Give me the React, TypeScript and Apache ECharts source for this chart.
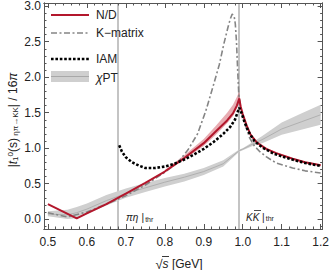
import React, { useEffect, useRef } from "react";
import * as echarts from "echarts";

// ---- data ----
const ND_X = [0.5, 0.574, 0.6, 0.65, 0.7, 0.75, 0.8, 0.85, 0.9, 0.93, 0.96, 0.975, 0.985, 0.991, 0.995, 1.0, 1.01, 1.02, 1.036, 1.06, 1.086, 1.128, 1.16, 1.2];
const ND_Y = [0.21, 0.01, 0.08, 0.21, 0.36, 0.51, 0.67, 0.86, 1.07, 1.23, 1.39, 1.49, 1.6, 1.7, 1.58, 1.48, 1.32, 1.19, 1.08, 0.99, 0.93, 0.85, 0.8, 0.76];

const NDB_X = [0.8, 0.85, 0.9, 0.93, 0.96, 0.975, 0.985, 0.991, 0.995, 1.0, 1.01, 1.02, 1.036, 1.06, 1.086, 1.128, 1.16, 1.2];
const NDB_LO = [0.66, 0.84, 1.03, 1.18, 1.35, 1.45, 1.56, 1.65, 1.55, 1.46, 1.31, 1.18, 1.07, 0.98, 0.92, 0.84, 0.79, 0.75];
const NDB_HI = [0.69, 0.9, 1.13, 1.31, 1.5, 1.61, 1.72, 1.8, 1.62, 1.5, 1.34, 1.21, 1.1, 1.01, 0.94, 0.86, 0.81, 0.77];

const KM_X = [0.5, 0.55, 0.6, 0.65, 0.7, 0.75, 0.8, 0.834, 0.86, 0.884, 0.905, 0.926, 0.94, 0.952, 0.962, 0.968, 0.973, 0.978, 0.981, 0.984, 0.987, 0.99, 0.995, 1.0, 1.01, 1.018, 1.03, 1.044, 1.06, 1.086, 1.128, 1.16, 1.2];
const KM_Y = [0.09, 0.03, 0.1, 0.21, 0.33, 0.48, 0.66, 0.8, 0.98, 1.2, 1.52, 1.91, 2.18, 2.48, 2.7, 2.82, 2.89, 2.86, 2.75, 2.5, 2.1, 1.75, 1.56, 1.45, 1.27, 1.14, 1.03, 0.95, 0.88, 0.79, 0.72, 0.68, 0.65];

const IAM_X = [0.683, 0.69, 0.7, 0.716, 0.735, 0.75, 0.775, 0.8, 0.825, 0.85, 0.875, 0.9, 0.926, 0.95, 0.968, 0.98, 0.991, 0.998, 1.005, 1.015, 1.03, 1.05, 1.08, 1.12, 1.16, 1.2];
const IAM_Y = [1.04, 0.95, 0.87, 0.8, 0.75, 0.72, 0.72, 0.74, 0.78, 0.84, 0.91, 0.99, 1.09, 1.2, 1.3, 1.4, 1.57, 1.48, 1.36, 1.23, 1.1, 1.01, 0.92, 0.85, 0.79, 0.75];

const CHI_X = [0.5, 0.55, 0.574, 0.6, 0.65, 0.7, 0.75, 0.8, 0.85, 0.9, 0.95, 0.991, 1.0, 1.03, 1.05, 1.1, 1.15, 1.2];
const CHI_LO = [0.04, 0.0, 0.01, 0.07, 0.19, 0.3, 0.38, 0.46, 0.53, 0.62, 0.74, 0.95, 0.97, 1.04, 1.07, 1.19, 1.26, 1.33];
const CHI_HI = [0.11, 0.13, 0.17, 0.22, 0.34, 0.43, 0.51, 0.58, 0.64, 0.72, 0.83, 0.98, 1.0, 1.1, 1.17, 1.36, 1.49, 1.61];
const CHI_MID = [0.07, 0.06, 0.09, 0.14, 0.26, 0.36, 0.44, 0.52, 0.59, 0.67, 0.78, 0.965, 0.985, 1.07, 1.12, 1.27, 1.37, 1.47];

const THRESHOLDS = [0.683, 0.991];

const X_MAJOR = [0.5, 0.6, 0.7, 0.8, 0.9, 1.0, 1.1, 1.2];
const Y_MAJOR = [0, 0.5, 1.0, 1.5, 2.0, 2.5, 3.0];
const X_MINOR: number[] = [];
for (let i = 25; i <= 60; i++) X_MINOR.push(+(i * 0.02).toFixed(2));
const Y_MINOR: number[] = [];
for (let i = -1; i <= 30; i++) Y_MINOR.push(+(i * 0.1).toFixed(1));

const X_MIN = 0.49;
const X_MAX = 1.205;
const Y_MIN = -0.14;
const Y_MAX = 3.046;

const FONT = "Liberation Sans, Arial, sans-serif";
const FRAME = "#555";
const RED = "#b3172c";

const zip = (xs: number[], ys: number[]) => xs.map((x, i) => [x, ys[i]]);

function bandSeries(xs: number[], lo: number[], hi: number[], fill: string, z: number) {
  return {
    type: "custom",
    coordinateSystem: "cartesian2d",
    silent: true,
    clip: true,
    z,
    data: xs.map((x, i) => [x, lo[i], hi[i]]),
    encode: { x: 0, y: [1, 2] },
    renderItem: (params: any, api: any) => {
      if (params.dataIndex !== 0) return null;
      const pts: number[][] = [];
      for (let i = 0; i < xs.length; i++) pts.push(api.coord([xs[i], hi[i]]));
      for (let i = xs.length - 1; i >= 0; i--) pts.push(api.coord([xs[i], lo[i]]));
      return { type: "polygon", shape: { points: pts }, style: { fill, stroke: null } };
    },
  };
}

function xAxisDef(position: string, ticks: number[], len: number, labels: boolean) {
  return {
    type: "value",
    min: X_MIN,
    max: X_MAX,
    position,
    axisLine: { show: true, onZero: false, lineStyle: { color: FRAME, width: 1 } },
    axisTick: { show: true, inside: true, length: len, customValues: ticks, lineStyle: { color: FRAME, width: 1 } },
    axisLabel: labels
      ? { show: true, customValues: X_MAJOR, formatter: (v: number) => v.toFixed(1), margin: 7, color: "#222", fontSize: 12, fontFamily: FONT }
      : { show: false },
    splitLine: { show: false },
  };
}

function yAxisDef(position: string, ticks: number[], len: number, labels: boolean) {
  return {
    type: "value",
    min: Y_MIN,
    max: Y_MAX,
    position,
    axisLine: { show: true, onZero: false, lineStyle: { color: FRAME, width: 1 } },
    axisTick: { show: true, inside: true, length: len, customValues: ticks, lineStyle: { color: FRAME, width: 1 } },
    axisLabel: labels
      ? { show: true, customValues: Y_MAJOR, formatter: (v: number) => v.toFixed(1), margin: 3, color: "#222", fontSize: 12, fontFamily: FONT }
      : { show: false },
    splitLine: { show: false },
  };
}

const LEG_X0 = 51;
const LEG_X1 = 89;
const LEG_TX = 96;

export default function App() {
  const ref = useRef<HTMLDivElement>(null);
  useEffect(() => {
    const chart = echarts.init(ref.current!, null, { renderer: "svg" });
    const option: any = {
      animation: false,
      backgroundColor: "#fff",
      grid: { left: 44, right: 5, top: 3, bottom: 41, containLabel: false },
      xAxis: [
        xAxisDef("bottom", X_MAJOR, 5, true),
        xAxisDef("bottom", X_MINOR, 2.5, false),
        xAxisDef("top", X_MAJOR, 5, false),
        xAxisDef("top", X_MINOR, 2.5, false),
      ],
      yAxis: [
        yAxisDef("left", Y_MAJOR, 5, true),
        yAxisDef("left", Y_MINOR, 2.5, false),
        yAxisDef("right", Y_MAJOR, 5, false),
        yAxisDef("right", Y_MINOR, 2.5, false),
      ],
      series: [
        bandSeries(CHI_X, CHI_LO, CHI_HI, "#cfcfcf", 1),
        {
          type: "line",
          z: 2,
          data: zip(CHI_X, CHI_MID),
          symbol: "none",
          silent: true,
          lineStyle: { color: "#b0b0b0", width: 1 },
          markLine: {
            silent: true,
            symbol: "none",
            label: { show: false },
            lineStyle: { color: "#c4c4c4", width: 2, type: "solid" },
            data: THRESHOLDS.map((t) => ({ xAxis: t })),
            z: 0,
          },
        },
        bandSeries(NDB_X, NDB_LO, NDB_HI, "rgba(205,70,85,0.45)", 3),
        {
          type: "line",
          z: 4,
          data: zip(KM_X, KM_Y),
          symbol: "none",
          silent: true,
          lineStyle: { color: "#858585", width: 1.6, type: [6, 2.5, 2, 2.5] },
        },
        {
          type: "line",
          z: 5,
          data: zip(ND_X, ND_Y),
          symbol: "none",
          silent: true,
          lineStyle: { color: RED, width: 2 },
        },
        {
          type: "line",
          z: 6,
          data: zip(IAM_X, IAM_Y),
          symbol: "none",
          silent: true,
          lineStyle: { color: "#000", width: 2.6, type: [2.6, 1.8] },
        },
      ],
      graphic: [
        // legend
        { type: "line", shape: { x1: LEG_X0, y1: 15, x2: LEG_X1, y2: 15 }, style: { stroke: RED, lineWidth: 2 }, z: 10 },
        { type: "text", x: LEG_TX, y: 15, style: { text: "N/D", fill: "#222", font: `12px ${FONT}`, verticalAlign: "middle" }, z: 10 },
        { type: "line", shape: { x1: LEG_X0, y1: 33, x2: LEG_X1, y2: 33 }, style: { stroke: "#858585", lineWidth: 1.6, lineDash: [6, 2.5, 2, 2.5] }, z: 10 },
        { type: "text", x: LEG_TX, y: 33, style: { text: "K\u2212matrix", fill: "#222", font: `12px ${FONT}`, verticalAlign: "middle" }, z: 10 },
        { type: "line", shape: { x1: LEG_X0, y1: 59, x2: LEG_X1, y2: 59 }, style: { stroke: "#000", lineWidth: 2.6, lineDash: [2.6, 1.8] }, z: 10 },
        { type: "text", x: LEG_TX, y: 59, style: { text: "IAM", fill: "#222", font: `12px ${FONT}`, verticalAlign: "middle" }, z: 10 },
        { type: "rect", shape: { x: LEG_X0, y: 71, width: LEG_X1 - LEG_X0, height: 11 }, style: { fill: "#cfcfcf" }, z: 10 },
        { type: "line", shape: { x1: LEG_X0, y1: 76.5, x2: LEG_X1, y2: 76.5 }, style: { stroke: "#a8a8a8", lineWidth: 1 }, z: 10 },
        {
          type: "text", x: LEG_TX, y: 78, z: 10,
          style: {
            text: "{it|\u03c7}{n|PT}",
            verticalAlign: "middle",
            rich: {
              it: { fontFamily: FONT, fontSize: 12, fontStyle: "italic", fill: "#222" },
              n: { fontFamily: FONT, fontSize: 12, fill: "#222" },
            },
          },
        },
        // threshold labels
        {
          type: "text", x: 126, y: 217, z: 10,
          style: {
            text: "{it|\u03c0\u03b7} {n||}{s|thr}",
            verticalAlign: "middle",
            rich: {
              it: { fontFamily: FONT, fontSize: 10, fontStyle: "italic", fill: "#222" },
              n: { fontFamily: FONT, fontSize: 10, fill: "#222" },
              s: { fontFamily: FONT, fontSize: 7, fill: "#222", verticalAlign: "bottom", padding: [3, 0, 0, 1] },
            },
          },
        },
        {
          type: "text", x: 246, y: 217, z: 10,
          style: {
            text: "{it|KK}{n| |}{s|thr}",
            verticalAlign: "middle",
            rich: {
              it: { fontFamily: FONT, fontSize: 10, fontStyle: "italic", fill: "#222" },
              n: { fontFamily: FONT, fontSize: 10, fill: "#222" },
              s: { fontFamily: FONT, fontSize: 7, fill: "#222", verticalAlign: "bottom", padding: [3, 0, 0, 1] },
            },
          },
        },
        { type: "line", shape: { x1: 254, y1: 210.5, x2: 261, y2: 210.5 }, style: { stroke: "#222", lineWidth: 0.8 }, z: 10 },
        // x-axis title
        {
          type: "text", x: 179, y: 264, z: 10,
          style: {
            text: "{r|\u221a}{it|s}{n| [GeV]}",
            align: "center",
            verticalAlign: "middle",
            rich: {
              r: { fontFamily: FONT, fontSize: 13, fill: "#222" },
              it: { fontFamily: FONT, fontSize: 12, fontStyle: "italic", fill: "#222" },
              n: { fontFamily: FONT, fontSize: 12, fill: "#222" },
            },
          },
        },
        { type: "line", shape: { x1: 162, y1: 256.5, x2: 169, y2: 256.5 }, style: { stroke: "#222", lineWidth: 0.9 }, z: 10 },
        // y-axis title
        {
          type: "text", x: 13, y: 120, rotation: Math.PI / 2, z: 10,
          style: {
            text: "{n||}{it|t}{sub|1}{sup|0}{n|(s)}{sub| \u03b7\u03c0\u2192KK}{n|| / 16}{it|\u03c0}",
            align: "center",
            verticalAlign: "middle",
            rich: {
              n: { fontFamily: FONT, fontSize: 12, fill: "#222" },
              it: { fontFamily: FONT, fontSize: 12, fontStyle: "italic", fill: "#222" },
              sub: { fontFamily: FONT, fontSize: 8, fill: "#222", verticalAlign: "bottom", padding: [5, 0, 0, 0] },
              sup: { fontFamily: FONT, fontSize: 8, fill: "#222", verticalAlign: "top", padding: [0, 0, 5, 0] },
            },
          },
        },
      ],
    };
    chart.setOption(option);
    return () => chart.dispose();
  }, []);
  return <div ref={ref} style={{ position: "fixed", left: 0, top: 0, width: 332, height: 270 }} />;
}
